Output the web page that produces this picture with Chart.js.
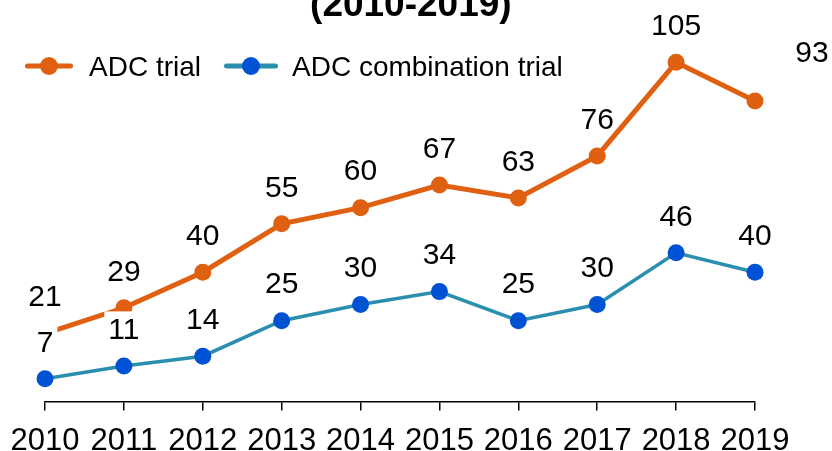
<!DOCTYPE html>
<html>
<head>
<meta charset="utf-8">
<script src="https://cdn.jsdelivr.net/npm/chart.js@4/dist/chart.umd.min.js"></script>
<style>
  html, body { margin: 0; padding: 0; background: #ffffff; }
  #wrap { width: 832px; height: 451px; }
</style>
</head>
<body>
<div id="wrap"><canvas id="c" width="832" height="451"></canvas></div>
<script>
// ---- data ----
const years = ['2010', '2011', '2012', '2013', '2014', '2015', '2016', '2017', '2018', '2019'];
const adcTrial = [21, 29, 40, 55, 60, 67, 63, 76, 105, 93];
const adcCombinationTrial = [7, 11, 14, 25, 30, 34, 25, 30, 46, 40];
const seriesNames = ['ADC trial', 'ADC combination trial'];
const titleText = '(2010-2019) ';

const FONT = '"Liberation Sans", Arial, Helvetica, sans-serif';
const ORANGE = '#E06012';
const TEAL = '#2A8FAE';
const BLUE = '#0052D4';

// value labels above each point (white backing box for the 2nd series)
const valueLabels = {
  id: 'valueLabels',
  afterDatasetsDraw(chart, args, opts) {
    const ctx = chart.ctx;
    const size = opts.size;
    ctx.save();
    ctx.font = size + 'px ' + FONT;
    ctx.textAlign = 'center';
    ctx.textBaseline = 'alphabetic';
    chart.data.datasets.forEach((ds, di) => {
      const meta = chart.getDatasetMeta(di);
      meta.data.forEach((pt, i) => {
        const txt = String(ds.data[i]);
        const shift = (opts.shift[di] && opts.shift[di][i]) || [0, 0];
        const cx = pt.x + shift[0];
        const cy = pt.y - opts.lift + shift[1];
        const w = ctx.measureText(txt).width;
        if (opts.boxed[di]) {
          ctx.fillStyle = '#ffffff';
          ctx.fillRect(cx - w / 2 - opts.padX, cy - size * 0.55, w + opts.padX * 2, size * 1.1);
        }
        ctx.fillStyle = '#000000';
        ctx.fillText(txt, cx, cy + size * 0.358);
      });
    });
    ctx.restore();
  }
};

// legend drawn inside the plot region (line + dot swatch, then text)
const lineLegend = {
  id: 'lineLegend',
  afterDraw(chart, args, opts) {
    const ctx = chart.ctx;
    ctx.save();
    chart.data.datasets.forEach((ds, di) => {
      const it = opts.items[di];
      ctx.strokeStyle = ds.borderColor;
      ctx.lineWidth = 5;
      ctx.lineCap = 'round';
      ctx.beginPath();
      ctx.moveTo(it.x0 + 2.5, opts.y);
      ctx.lineTo(it.x1 - 2.5, opts.y);
      ctx.stroke();
      ctx.fillStyle = ds.pointBackgroundColor;
      ctx.beginPath();
      ctx.arc((it.x0 + it.x1) / 2, opts.y, 9, 0, Math.PI * 2);
      ctx.fill();
      ctx.fillStyle = '#000000';
      ctx.font = opts.size + 'px ' + FONT;
      ctx.textAlign = 'left';
      ctx.textBaseline = 'alphabetic';
      ctx.fillText(ds.label, it.tx, opts.y + opts.size * 0.358);
    });
    ctx.restore();
  }
};

new Chart(document.getElementById('c'), {
  type: 'line',
  data: {
    labels: years,
    datasets: [
      {
        label: seriesNames[0],
        data: adcTrial,
        borderColor: ORANGE,
        backgroundColor: ORANGE,
        borderWidth: 5,
        pointRadius: 8.5,
        pointBorderWidth: 0,
        pointBackgroundColor: ORANGE,
        tension: 0,
        clip: false
      },
      {
        label: seriesNames[1],
        data: adcCombinationTrial,
        borderColor: TEAL,
        backgroundColor: BLUE,
        borderWidth: 3.5,
        pointRadius: 8.5,
        pointBorderWidth: 0,
        pointBackgroundColor: BLUE,
        tension: 0,
        clip: false
      }
    ]
  },
  options: {
    responsive: false,
    animation: false,
    devicePixelRatio: 1,
    layout: { padding: { top: 0, left: 0, right: 0, bottom: -21.9 } },
    plugins: {
      title: {
        display: true,
        text: titleText,
        color: '#000000',
        font: { family: FONT, size: 37, weight: 'bold', lineHeight: 1.2 },
        padding: { top: -16, bottom: 0 }
      },
      legend: { display: false },
      tooltip: { enabled: false },
      lineLegend: {
        y: 66,
        size: 28,
        items: [
          { x0: 25, x1: 73, tx: 89 },
          { x0: 224, x1: 278, tx: 292 }
        ]
      },
      valueLabels: {
        size: 30,
        lift: 38,
        padX: 4,
        boxed: [false, true],
        shift: { 0: { 9: [57, -12] } }
      }
    },
    scales: {
      x: {
        offset: false,
        grid: { display: true, drawOnChartArea: false, drawTicks: true, tickLength: 9, color: '#000000', lineWidth: 1.5 },
        border: { display: true, color: '#000000', width: 1.5 },
        ticks: { color: '#000000', font: { family: FONT, size: 31, lineHeight: 1.37 }, padding: 10, maxRotation: 0, autoSkip: false }
      },
      y: {
        display: true,
        min: 0,
        max: 115.5,
        grid: { display: false },
        border: { display: false },
        ticks: { display: false },
        afterFit(s) { s.width = 45; }
      },
      y2: {
        display: true,
        position: 'right',
        min: 0,
        max: 1,
        grid: { display: false },
        border: { display: false },
        ticks: { display: false },
        afterFit(s) { s.width = 77; }
      }
    }
  },
  plugins: [valueLabels, lineLegend]
});
</script>
</body>
</html>
